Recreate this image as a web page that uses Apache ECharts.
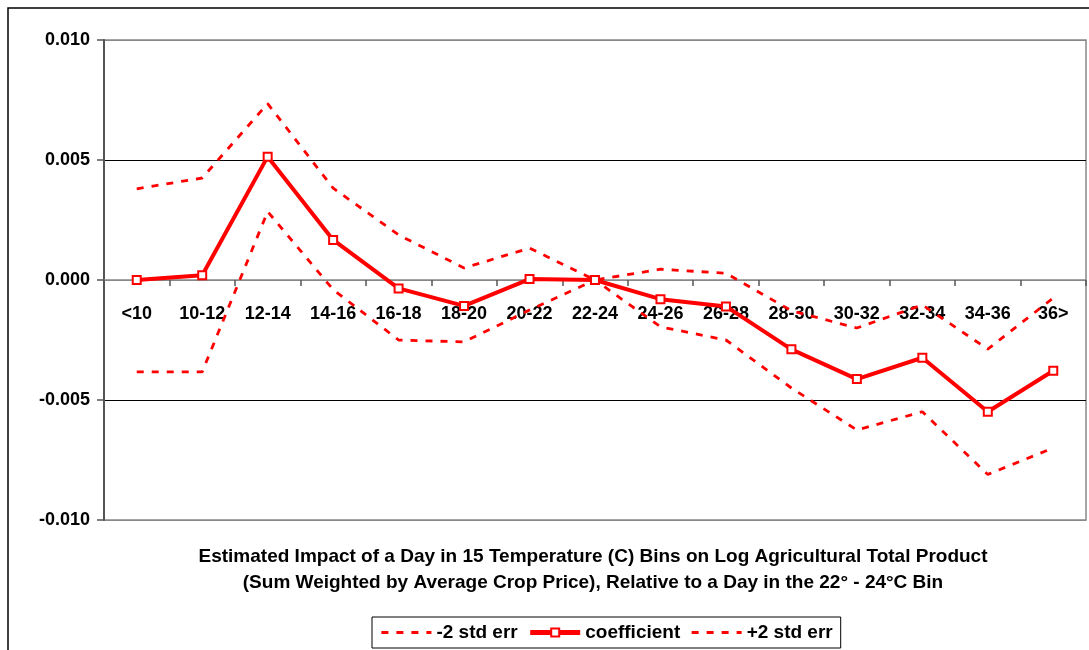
<!DOCTYPE html>
<html>
<head>
<meta charset="utf-8">
<script src="https://cdn.jsdelivr.net/npm/echarts@6/dist/echarts.min.js"></script>
<style>
  html, body { margin: 0; padding: 0; background: #fff; }
  #chart { width: 1089px; height: 650px; }
</style>
</head>
<body>
<div id="chart"></div>
<script>
// Temperature bins (°C)
const bins = ['<10', '10-12', '12-14', '14-16', '16-18', '18-20', '20-22', '22-24',
              '24-26', '26-28', '28-30', '30-32', '32-34', '34-36', '36>'];

// Point estimates, relative to the 22-24°C bin
const coefficient = [0.0000, 0.0002, 0.00514, 0.00167, -0.00035, -0.00108, 0.00004, 0.0000,
                     -0.0008, -0.0011, -0.00289, -0.00413, -0.00324, -0.00549, -0.00378];

// Lower band: coefficient - 2 standard errors
const minus2se = [-0.00383, -0.00383, 0.00285, -0.0004, -0.0025, -0.00258, -0.00125, 0.0000,
                  -0.00195, -0.0025, -0.0045, -0.00625, -0.00549, -0.0081, -0.0070];

// Upper band: coefficient + 2 standard errors
const plus2se = [0.0038, 0.00425, 0.00735, 0.00383, 0.00188, 0.0005, 0.00133, 0.0000,
                 0.00045, 0.00028, -0.00128, -0.002, -0.00104, -0.00288, -0.00075];

const yTicks = { min: -0.010, max: 0.010, step: 0.005 };

const FONT = '"Liberation Sans", Arial, sans-serif';
const RED = '#ff0000';

// plot box
const GRID = { left: 104, right: 3, top: 40, bottom: 130 };
const plotHeight = 650 - GRID.top - GRID.bottom;
// lift the category axis from the bottom edge up to the value 0
const zeroLift = plotHeight * (0 - yTicks.min) / (yTicks.max - yTicks.min);

const chart = echarts.init(document.getElementById('chart'), null, { renderer: 'canvas' });

const DASH = [7, 8];
const dashStyle = { color: RED, width: 2.8, type: DASH };

chart.setOption({
  animation: false,
  backgroundColor: '#fff',
  graphic: [{
    type: 'rect',
    z: -10,
    shape: { x: 8, y: 8, width: 1200, height: 800 },
    style: { fill: 'none', stroke: '#000', lineWidth: 1.5 }
  }],
  title: {
    text: 'Estimated Impact of a Day in 15 Temperature (C) Bins on Log Agricultural Total Product\n' +
          '(Sum Weighted by Average Crop Price), Relative to a Day in the 22° - 24°C Bin',
    left: 593,
    top: 544,
    textAlign: 'center',
    padding: 0,
    textStyle: { fontFamily: FONT, fontSize: 19, fontWeight: 'bold', color: '#000', lineHeight: 26 }
  },
  legend: {
    left: 372,
    top: 617,
    padding: [6, 8],
    itemGap: 10,
    itemWidth: 50,
    itemHeight: 10,
    borderColor: '#000',
    borderWidth: 1,
    textStyle: { fontFamily: FONT, fontSize: 19, fontWeight: 'bold', color: '#000' },
    data: [
      { name: '-2 std err', itemStyle: { opacity: 0 }, lineStyle: { width: 2.8, type: DASH } },
      { name: 'coefficient', lineStyle: { width: 5 } },
      { name: '+2 std err', itemStyle: { opacity: 0 }, lineStyle: { width: 2.8, type: DASH } }
    ]
  },
  grid: Object.assign({ show: true, borderColor: '#888', borderWidth: 1.5 }, GRID),
  xAxis: {
    type: 'category',
    data: bins,
    boundaryGap: true,
    offset: -zeroLift,
    axisLine: { onZero: false, lineStyle: { color: '#888', width: 1.5 } },
    axisTick: { show: true, length: 6, lineStyle: { color: '#555', width: 1.5 } },
    axisLabel: { margin: 25, interval: 0, fontFamily: FONT, fontSize: 18, fontWeight: 'bold', color: '#000' },
    splitLine: { show: false }
  },
  yAxis: {
    type: 'value',
    min: yTicks.min,
    max: yTicks.max,
    interval: yTicks.step,
    axisLine: { show: true, lineStyle: { color: '#555', width: 2 } },
    axisTick: { show: true, length: 7, lineStyle: { color: '#555', width: 1.5 } },
    axisLabel: {
      margin: 14,
      fontFamily: FONT, fontSize: 18, fontWeight: 'bold', color: '#000',
      formatter: v => v.toFixed(3)
    },
    splitLine: { show: true, lineStyle: { color: ['#888', '#000', '#888', '#000', '#888'], width: 1.2 } }
  },
  series: [
    {
      name: '-2 std err', type: 'line', data: minus2se,
      symbol: 'none', lineStyle: dashStyle, itemStyle: { color: RED }, z: 2
    },
    {
      name: 'coefficient', type: 'line', data: coefficient,
      symbol: 'emptyRect', symbolSize: 8,
      lineStyle: { color: RED, width: 4 },
      itemStyle: { color: RED, borderColor: RED, borderWidth: 1.5 }, z: 3
    },
    {
      name: '+2 std err', type: 'line', data: plus2se,
      symbol: 'none', lineStyle: dashStyle, itemStyle: { color: RED }, z: 2
    }
  ]
});
</script>
</body>
</html>
